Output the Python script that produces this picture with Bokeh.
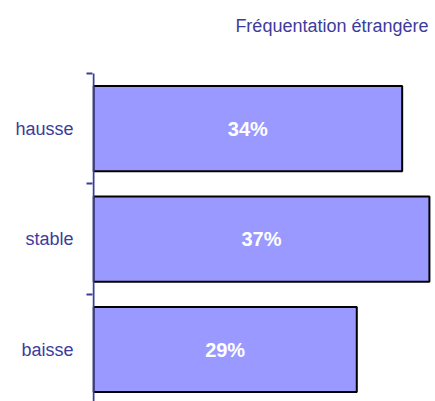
from bokeh.plotting import figure
from bokeh.models import Range1d, FixedTicker, ColumnDataSource, Label
from bokeh.core.properties import value
from bokeh.embed import file_html
from bokeh.resources import INLINE

categories = ["hausse", "stable", "baisse"]
values = [34, 37, 29]
labels = ["34%", "37%", "29%"]
title = "Fréquentation étrangère"

FONT = "Liberation Sans"
BLUE = "#3c3c9c"

pos = [i + 0.5 for i in range(len(categories))]
n = len(categories)
src = ColumnDataSource(dict(y=pos, v=values, mid=[v / 2 for v in values], lab=labels))

p = figure(width=435, height=401, output_backend="svg", toolbar_location=None,
           x_range=Range1d(-0.11, 37.67), y_range=Range1d(2.97, -0.66),
           min_border_left=92, min_border_right=0, min_border_top=0, min_border_bottom=0)
p.outline_line_color = None
p.grid.visible = False
p.xaxis.visible = False

p.add_layout(Label(x=36.9, y=-0.425, text=title, text_align="right", text_baseline="middle",
                   text_font=FONT, text_font_size="18px", text_color=BLUE))

p.hbar(y="y", right="v", left=0, height=0.77, source=src,
       fill_color="#9999ff", line_color="black", line_width=2)
p.segment(x0=[0], y0=[0], x1=[0], y1=[n], line_color=BLUE, line_width=2)
p.text(x="mid", y="y", text="lab", source=src, text_align="center", text_baseline="middle",
       text_color="white", text_font=value(FONT), text_font_size="20px", text_font_style="bold")

ya = p.yaxis[0]
ya.ticker = FixedTicker(ticks=pos, minor_ticks=list(range(n)))
ya.major_label_overrides = {pp: c for pp, c in zip(pos, categories)}
ya.major_tick_line_color = None
ya.major_tick_out = 0
ya.major_tick_in = 0
ya.minor_tick_out = 6
ya.minor_tick_in = 0
ya.minor_tick_line_color = BLUE
ya.minor_tick_line_width = 2
ya.axis_line_color = None
ya.major_label_standoff = 13
ya.major_label_text_font = FONT
ya.major_label_text_font_size = "18px"
ya.major_label_text_color = BLUE

open("out.html", "w").write(file_html(p, INLINE))
